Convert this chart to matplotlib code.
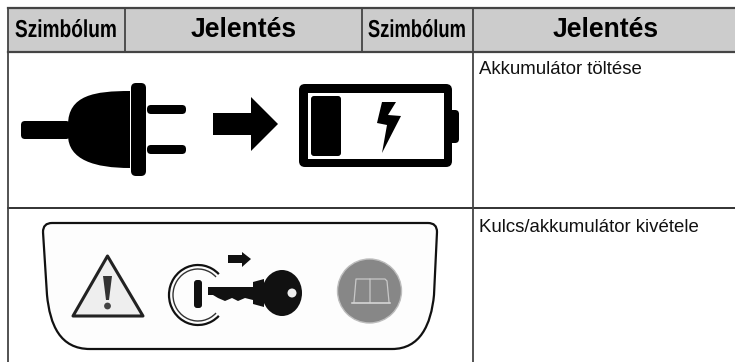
import matplotlib
matplotlib.use("Agg")
import matplotlib.pyplot as plt
from matplotlib.patches import Rectangle, Polygon, FancyBboxPatch, Circle, Arc, Ellipse, PathPatch
from matplotlib.path import Path
from matplotlib.patheffects import AbstractPathEffect
from matplotlib.transforms import Affine2D

# table contents
header_labels = ["Szimbólum", "Jelentés", "Szimbólum", "Jelentés"]
row_labels = ["Akkumulátor töltése", "Kulcs/akkumulátor kivétele"]
col_edges = [8, 125, 362, 473, 735]
row_edges = [8, 51, 208, 362]

fig = plt.figure(figsize=(7.35, 3.62), dpi=100)
ax = fig.add_axes([0, 0, 1, 1])
ax.set_xlim(0, 735)
ax.set_ylim(362, 0)
ax.axis("off")

px = 0.72  # px to pt at dpi 100
line_col = "#444444"


class Squeeze(AbstractPathEffect):
    # the symbol headers are squashed sideways in the original
    def __init__(self, xc, sx):
        super().__init__()
        self.xc = xc
        self.sx = sx

    def draw_path(self, renderer, gc, tpath, affine, rgbFace=None):
        sq = Affine2D().translate(-self.xc, 0).scale(self.sx, 1).translate(self.xc, 0)
        renderer.draw_path(gc, tpath, affine + sq, rgbFace)


def rbox(x0, y0, x1, y1, r, **kw):
    b = FancyBboxPatch((x0 + r, y0 + r), x1 - x0 - 2 * r, y1 - y0 - 2 * r,
                       boxstyle="round,pad=%f,rounding_size=%f" % (r, r), **kw)
    ax.add_patch(b)


# header band and grid
ax.add_patch(Rectangle((col_edges[0], row_edges[0]), col_edges[-1] - col_edges[0],
                       row_edges[1] - row_edges[0], fc="#cccccc", ec="none"))
ax.plot([col_edges[0], 735], [row_edges[0]] * 2, color=line_col, lw=1.6)
ax.plot([col_edges[0], 735], [row_edges[1] + 0.5] * 2, color=line_col, lw=1.6)
ax.plot([col_edges[0], 735], [row_edges[2]] * 2, color="#222222", lw=1.3)
ax.plot([col_edges[0]] * 2, [row_edges[0], 362], color=line_col, lw=1.3)
ax.plot([col_edges[1]] * 2, [row_edges[0], row_edges[1]], color=line_col, lw=1.3)
ax.plot([col_edges[2]] * 2, [row_edges[0], row_edges[1]], color=line_col, lw=1.3)
ax.plot([col_edges[3]] * 2, [row_edges[0], 362], color=line_col, lw=1.3)

# header text
sym_centres = {0: (66, 0.78), 2: (417, 0.75)}
for i, lab in enumerate(header_labels):
    if lab == "Szimbólum":
        xc, sx = sym_centres[i]
        t = ax.text(xc, 37, lab, ha="center", va="baseline", fontsize=24.5 * px, fontweight="bold",
                    family="Liberation Sans", color="#000000")
        t.set_path_effects([Squeeze(ax.transData.transform((xc, 0))[0], sx)])
    else:
        xc = (col_edges[i] + col_edges[i + 1]) / 2
        if i == 3:
            xc = 605.5
        ax.text(xc, 37, lab, ha="center", va="baseline", fontsize=26.5 * px, fontweight="bold",
                family="Liberation Sans", color="#000000")

# row text
ax.text(479, 74, row_labels[0], ha="left", va="baseline", fontsize=18.6 * px,
        family="Liberation Sans", color="#111111")
ax.text(479, 232, row_labels[1], ha="left", va="baseline", fontsize=18.6 * px,
        family="Liberation Sans", color="#111111")

# plug
rbox(21, 121, 70, 139, 4, fc="k", ec="none")
body = Path([(130, 91), (95, 91), (68, 95), (68, 125), (68, 135), (68, 160), (95, 168), (130, 168), (130, 91)],
            [Path.MOVETO, Path.CURVE4, Path.CURVE4, Path.CURVE4, Path.LINETO,
             Path.CURVE4, Path.CURVE4, Path.CURVE4, Path.CLOSEPOLY])
ax.add_patch(PathPatch(body, fc="k", ec="none"))
rbox(131, 83, 146, 176, 5, fc="k", ec="none")
rbox(147, 105, 186, 114, 4, fc="k", ec="none")
rbox(147, 145, 186, 154, 4, fc="k", ec="none")

# arrow
ax.add_patch(Polygon([(213, 113), (251, 113), (251, 97), (278, 124), (251, 151), (251, 135), (213, 135)],
                     fc="k", ec="none"))

# battery
rbox(299, 84, 452, 167, 6, fc="k", ec="none")
ax.add_patch(Rectangle((308, 93), 136, 66, fc="white", ec="none"))
rbox(311, 96, 341, 156, 3, fc="k", ec="none")
rbox(448, 110, 459, 143, 4, fc="k", ec="none")
ax.add_patch(Polygon([(382, 102), (396, 102), (388, 115), (401, 116), (382, 153), (387, 125), (377, 123)],
                     fc="k", ec="none"))

# label outline of second row
outline = Path([(43, 232), (43, 223), (52, 223), (428, 223), (437, 223), (437, 232),
                (434, 295), (431, 325), (420, 349), (392, 349), (90, 349), (60, 349), (50, 325), (47, 295), (43, 232)],
               [Path.MOVETO, Path.CURVE3, Path.CURVE3, Path.LINETO, Path.CURVE3, Path.CURVE3,
                Path.LINETO, Path.CURVE4, Path.CURVE4, Path.CURVE4, Path.LINETO,
                Path.CURVE4, Path.CURVE4, Path.CURVE4, Path.LINETO])
ax.add_patch(PathPatch(outline, fc="#fdfdfd", ec="#111111", lw=1.6))

# warning triangle
ax.add_patch(Polygon([(107.5, 256), (73, 316), (143, 316)], closed=True, fc="#eeeeee", ec="#222222", lw=2.2,
                     joinstyle="round"))
ax.add_patch(Polygon([(103, 276), (112, 276), (109, 300), (106, 300)], fc="#333333", ec="none"))
ax.add_patch(Circle((107.5, 306), 3.4, fc="#444444", ec="none"))

# power ring
ax.add_patch(Arc((198, 295), 58, 60, theta1=45, theta2=315, ec="#111111", lw=1.6))
ax.add_patch(Arc((198, 295), 50, 52, theta1=45, theta2=315, ec="#333333", lw=1.0))
rbox(194, 280, 202, 308, 3, fc="#111111", ec="none")

# key
ax.add_patch(Rectangle((208, 287), 55, 8, fc="#111111", ec="none"))
ax.add_patch(Polygon([(213, 295), (253, 295), (253, 300), (245, 298), (238, 301), (232, 298), (225, 301), (218, 298)],
                     fc="#111111", ec="none"))
ax.add_patch(Polygon([(253, 282), (264, 279), (264, 307), (253, 304)], fc="#111111", ec="none"))
ax.add_patch(Ellipse((282, 293), 40, 46, fc="#111111", ec="none"))
ax.add_patch(Circle((292, 293), 4.5, fc="#eeeeee", ec="none"))
ax.add_patch(Polygon([(228, 255), (242, 255), (242, 252), (251, 259), (242, 267), (242, 263), (228, 263)],
                     fc="#111111", ec="none"))

# gray book disc
ax.add_patch(Circle((369.5, 291), 32, fc="#878787", ec="#bdbdbd", lw=1))
ax.plot([354, 356, 370, 370], [302, 279, 279, 302], color="#c8c8c8", lw=0.9)
ax.plot([370, 385, 387, 389], [279, 279, 281, 302], color="#c8c8c8", lw=0.9)
ax.plot([352, 390], [303, 303], color="#dddddd", lw=1.1)

fig.savefig("out.png", dpi=100)
